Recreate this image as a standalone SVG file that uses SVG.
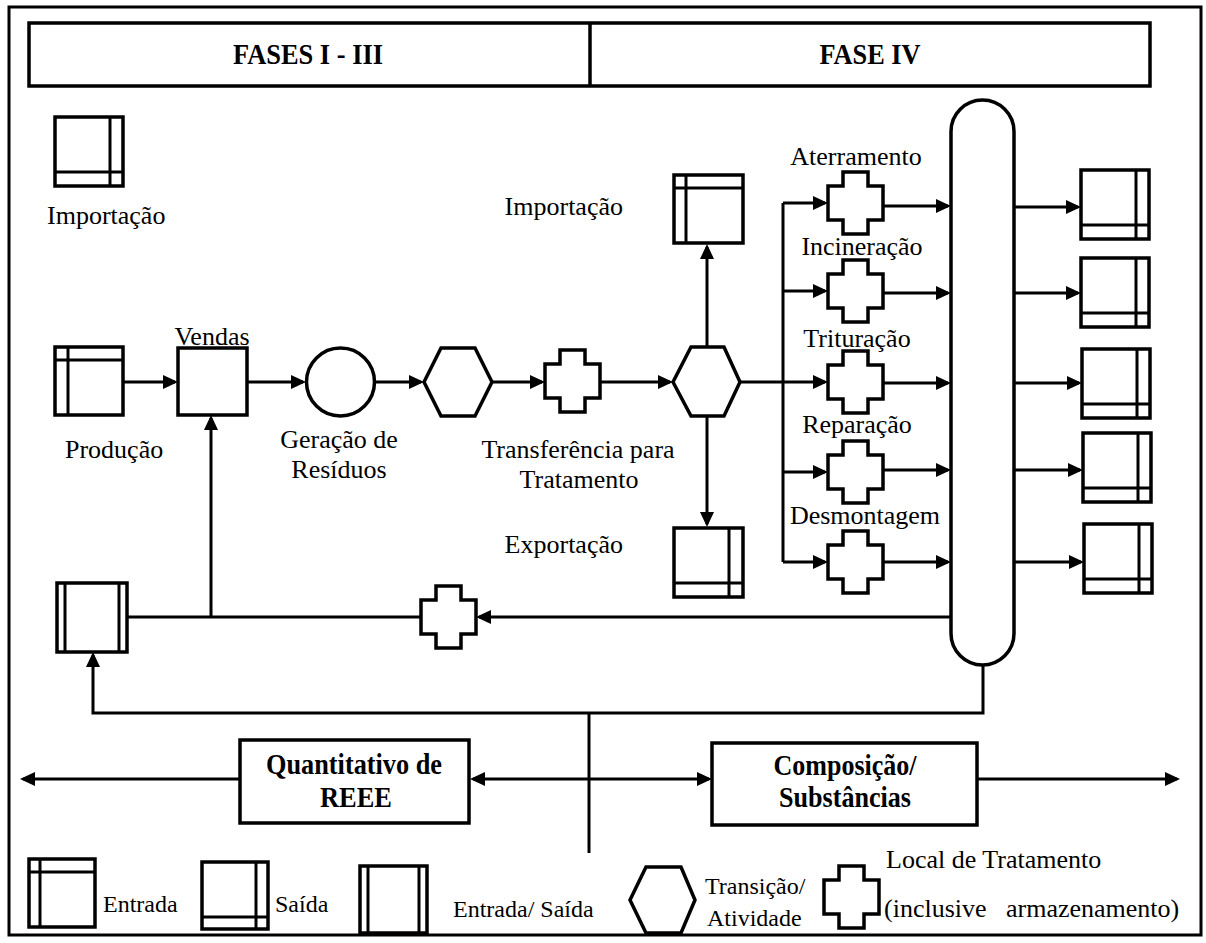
<svg xmlns="http://www.w3.org/2000/svg" width="1206" height="943" viewBox="0 0 1206 943">
<style>
.ln{stroke:#000;stroke-width:3;fill:none}
.sh{fill:#fff;stroke:#000;stroke-width:3.5}
.in{stroke:#000;stroke-width:3;fill:none}
.t{font-family:"Liberation Serif","Times New Roman",serif;font-size:26px;fill:#000}
.tl{font-family:"Liberation Serif","Times New Roman",serif;font-size:24px;fill:#000}
.b{font-family:"Liberation Serif","Times New Roman",serif;font-size:29px;font-weight:bold;fill:#000}
.m{text-anchor:middle}
</style>
<defs>
<marker id="ar" markerUnits="userSpaceOnUse" markerWidth="15" markerHeight="14" refX="12" refY="7" orient="auto">
<path d="M0,0 L15,7 L0,14 Z" fill="#000"/>
</marker>
<path id="cross" d="M15,0 H40 V14 H55 V48 H40 V62 H15 V48 H0 V14 H15 Z"/>
</defs>
<rect width="1206" height="943" fill="#fff"/>
<rect x="9" y="7" width="1192" height="928" fill="none" stroke="#000" stroke-width="3"/>

<g id="header">
<rect x="29" y="23" width="1121" height="63" fill="none" stroke="#000" stroke-width="3.5"/>
<line x1="590" y1="23" x2="590" y2="86" stroke="#000" stroke-width="3.5"/>
<text class="b m" x="308" y="64" textLength="150" lengthAdjust="spacingAndGlyphs">FASES I - III</text>
<text class="b m" x="870" y="64" textLength="101" lengthAdjust="spacingAndGlyphs">FASE IV</text>
</g>

<g id="connectors">
<line class="ln" x1="123" y1="382" x2="175" y2="382" marker-end="url(#ar)"/>
<line class="ln" x1="247" y1="382" x2="303" y2="382" marker-end="url(#ar)"/>
<line class="ln" x1="375" y1="382" x2="421" y2="382" marker-end="url(#ar)"/>
<line class="ln" x1="492" y1="382" x2="542" y2="382" marker-end="url(#ar)"/>
<line class="ln" x1="600" y1="382" x2="670" y2="382" marker-end="url(#ar)"/>
<line class="ln" x1="707" y1="347" x2="707" y2="247" marker-end="url(#ar)"/>
<line class="ln" x1="707" y1="416" x2="707" y2="524" marker-end="url(#ar)"/>
<polyline class="ln" points="740,382 783,382"/>
<line class="ln" x1="783" y1="203" x2="783" y2="562"/>
<line class="ln" x1="783" y1="203" x2="825" y2="203" marker-end="url(#ar)"/>
<line class="ln" x1="783" y1="291" x2="825" y2="291" marker-end="url(#ar)"/>
<line class="ln" x1="783" y1="382" x2="825" y2="382" marker-end="url(#ar)"/>
<line class="ln" x1="783" y1="472" x2="825" y2="472" marker-end="url(#ar)"/>
<line class="ln" x1="783" y1="562" x2="825" y2="562" marker-end="url(#ar)"/>
<line class="ln" x1="883" y1="206" x2="948" y2="206" marker-end="url(#ar)"/>
<line class="ln" x1="883" y1="293" x2="948" y2="293" marker-end="url(#ar)"/>
<line class="ln" x1="883" y1="383" x2="948" y2="383" marker-end="url(#ar)"/>
<line class="ln" x1="883" y1="470" x2="948" y2="470" marker-end="url(#ar)"/>
<line class="ln" x1="883" y1="562" x2="948" y2="562" marker-end="url(#ar)"/>
<line class="ln" x1="1014" y1="207" x2="1078" y2="207" marker-end="url(#ar)"/>
<line class="ln" x1="1014" y1="293" x2="1078" y2="293" marker-end="url(#ar)"/>
<line class="ln" x1="1014" y1="383" x2="1079" y2="383" marker-end="url(#ar)"/>
<line class="ln" x1="1014" y1="470" x2="1080" y2="470" marker-end="url(#ar)"/>
<line class="ln" x1="1014" y1="562" x2="1081" y2="562" marker-end="url(#ar)"/>
<line class="ln" x1="951" y1="617" x2="479" y2="617" marker-end="url(#ar)"/>
<line class="ln" x1="421" y1="617" x2="127" y2="617"/>
<line class="ln" x1="211" y1="617" x2="211" y2="418" marker-end="url(#ar)"/>
<polyline class="ln" points="983,665 983,713 93,713 93,655" marker-end="url(#ar)"/>
<line class="ln" x1="589" y1="713" x2="589" y2="853"/>
<line class="ln" x1="240" y1="779" x2="23" y2="779" marker-end="url(#ar)"/>
<line class="ln" x1="589" y1="779" x2="473" y2="779" marker-end="url(#ar)"/>
<line class="ln" x1="589" y1="779" x2="709" y2="779" marker-end="url(#ar)"/>
<line class="ln" x1="977" y1="779" x2="1177" y2="779" marker-end="url(#ar)"/>
</g>

<g id="importacao-1">
<rect class="sh" x="55" y="117" width="68" height="69"/>
<path class="in" d="M110,117 V186 M55,172 H123"/>
<text class="t" x="47" y="224">Importação</text>
</g>
<g id="producao">
<rect class="sh" x="55" y="347" width="68" height="68"/>
<path class="in" d="M68,347 V415 M55,360 H123"/>
<text class="t" x="65" y="458">Produção</text>
</g>
<g id="vendas">
<rect class="sh" x="178" y="348" width="69" height="67"/>
<text class="t m" x="212" y="345">Vendas</text>
</g>
<g id="geracao">
<circle class="sh" cx="340.5" cy="382" r="34"/>
<text class="t m" x="339" y="448">Geração de</text>
<text class="t m" x="339" y="478">Resíduos</text>
</g>
<g id="transicao-1">
<polygon class="sh" points="424,382 441,348 475,348 492,382 475,416 441,416"/>
</g>
<g id="transferencia">
<use href="#cross" x="545" y="350" class="sh"/>
<text class="t m" x="578" y="458">Transferência para</text>
<text class="t m" x="579" y="488">Tratamento</text>
</g>
<g id="transicao-2">
<polygon class="sh" points="673,382 691,347 724,347 740,382 724,416 691,416"/>
</g>
<g id="importacao-2">
<rect class="sh" x="674" y="175" width="69" height="68"/>
<path class="in" d="M686,175 V243 M674,188 H743"/>
<text class="t" x="623" y="215" text-anchor="end">Importação</text>
</g>
<g id="exportacao">
<rect class="sh" x="674" y="528" width="69" height="69"/>
<path class="in" d="M729,528 V597 M674,583 H743"/>
<text class="t" x="623" y="553" text-anchor="end">Exportação</text>
</g>
<g id="aterramento">
<use href="#cross" x="828" y="172" class="sh"/>
<text class="t m" x="856" y="165">Aterramento</text>
</g>
<g id="incineracao">
<use href="#cross" x="828" y="260" class="sh"/>
<text class="t m" x="862" y="255">Incineração</text>
</g>
<g id="trituracao">
<use href="#cross" x="828" y="351" class="sh"/>
<text class="t m" x="857" y="347">Trituração</text>
</g>
<g id="reparacao">
<use href="#cross" x="828" y="441" class="sh"/>
<text class="t m" x="857" y="433">Reparação</text>
</g>
<g id="desmontagem">
<use href="#cross" x="828" y="531" class="sh"/>
<text class="t m" x="865" y="524">Desmontagem</text>
</g>
<g id="coletor">
<rect class="sh" x="951" y="100" width="63" height="565" rx="31.5" ry="31.5"/>
</g>
<g id="saida-1"><rect class="sh" x="1081" y="170" width="68" height="69"/><path class="in" d="M1136,170 V239 M1081,225 H1149"/></g>
<g id="saida-2"><rect class="sh" x="1081" y="258" width="68" height="69"/><path class="in" d="M1136,258 V327 M1081,313 H1149"/></g>
<g id="saida-3"><rect class="sh" x="1082" y="349" width="68" height="69"/><path class="in" d="M1137,349 V418 M1082,404 H1150"/></g>
<g id="saida-4"><rect class="sh" x="1083" y="433" width="68" height="69"/><path class="in" d="M1138,433 V502 M1083,488 H1151"/></g>
<g id="saida-5"><rect class="sh" x="1084" y="524" width="68" height="69"/><path class="in" d="M1139,524 V593 M1084,579 H1152"/></g>
<g id="entrada-saida">
<rect class="sh" x="57" y="583" width="70" height="69"/>
<path class="in" d="M65,583 V652 M119,583 V652"/>
</g>
<g id="tratamento-retorno">
<use href="#cross" x="421" y="586" class="sh"/>
</g>
<g id="quantitativo">
<rect class="sh" x="240" y="740" width="229" height="83"/>
<text class="b m" x="354" y="774" textLength="176" lengthAdjust="spacingAndGlyphs">Quantitativo de</text>
<text class="b m" x="356" y="807" textLength="72" lengthAdjust="spacingAndGlyphs">REEE</text>
</g>
<g id="composicao">
<rect class="sh" x="712" y="743" width="265" height="82"/>
<text class="b m" x="845" y="775" textLength="143" lengthAdjust="spacingAndGlyphs">Composição/</text>
<text class="b m" x="845" y="807" textLength="132" lengthAdjust="spacingAndGlyphs">Substâncias</text>
</g>
<g id="legenda">
<rect class="sh" x="29" y="859" width="66" height="68"/>
<path class="in" d="M40,859 V927 M29,872 H95"/>
<text class="tl" x="103" y="912">Entrada</text>
<rect class="sh" x="202" y="862" width="66" height="67"/>
<path class="in" d="M256,862 V929 M202,917 H268"/>
<text class="tl" x="275" y="912">Saída</text>
<rect class="sh" x="360" y="866" width="67" height="67"/>
<path class="in" d="M368,866 V933 M419,866 V933"/>
<text class="tl" x="453" y="917">Entrada/ Saída</text>
<polygon class="sh" points="630,900 646,867 681,867 695,900 681,933 646,933"/>
<text class="tl" x="705" y="894">Transição/</text>
<text class="tl" x="707" y="926">Atividade</text>
<use href="#cross" x="824" y="866" class="sh"/>
<text class="t" x="886" y="868">Local de Tratamento</text>
<text class="t" x="884" y="917" xml:space="preserve">(inclusive   armazenamento)</text>
</g>
</svg>
